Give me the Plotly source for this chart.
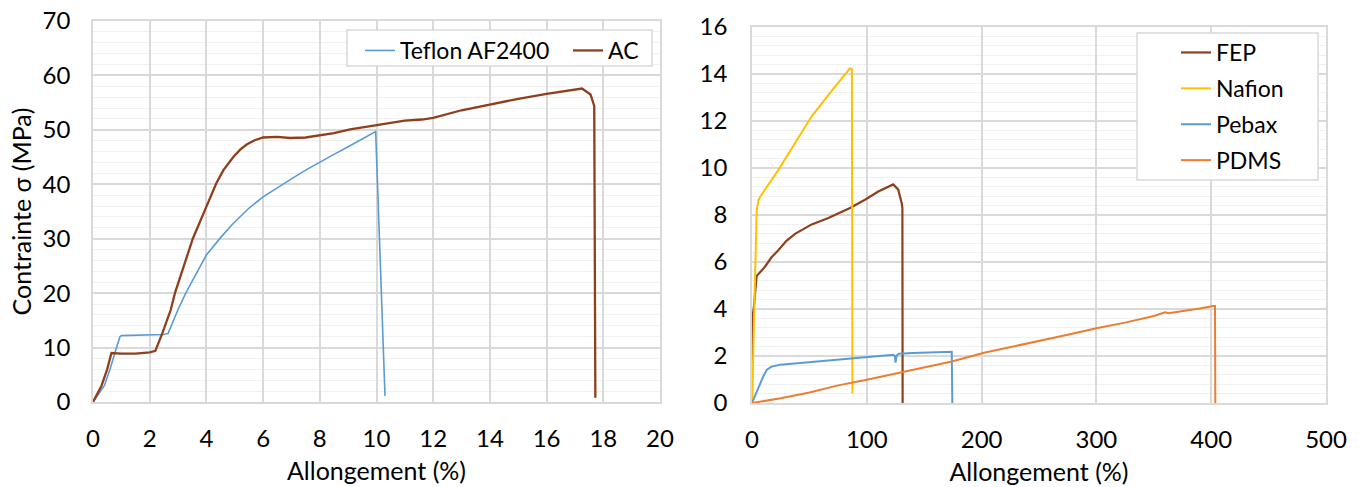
import plotly.graph_objects as go

# ---------------- Data (left chart) ----------------
teflon_x = [0, 0.2, 0.4, 0.5, 0.6, 0.8, 0.95, 1.0, 1.5, 2.0, 2.5, 2.65, 2.8, 3.0, 3.28, 3.5, 3.8, 4.0, 4.5,
            4.96, 5.5, 6.0, 6.5, 7.0, 7.5, 8.0, 8.5, 9.0, 9.5, 9.97, 10.3]
teflon_y = [0, 1.5, 3.0, 4.5, 6.0, 9.5, 12.0, 12.2, 12.3, 12.3, 12.4, 12.6, 14.5, 17.0, 20.1, 22.3, 25.1, 27.0, 30.2,
            32.9, 35.6, 37.7, 39.4, 41.0, 42.6, 44.1, 45.5, 46.9, 48.3, 49.7, 1.1]

ac_x = [0, 0.3, 0.5, 0.65, 1.0, 1.5, 2.0, 2.2, 2.45, 2.74, 2.89, 3.28, 3.52, 4.0, 4.35, 4.6, 4.95, 5.2, 5.42,
        5.7, 6.0, 6.5, 6.95, 7.5, 7.9, 8.5, 9.07, 10.0, 11.0, 11.6, 12.0, 13.0, 14.0, 15.0, 16.0, 16.9, 17.25,
        17.55, 17.68, 17.72]
ac_y = [0, 3.0, 6.0, 9.0, 8.9, 8.9, 9.1, 9.4, 12.7, 16.9, 20.0, 26.2, 30.0, 35.9, 40.2, 42.6, 45.0, 46.4, 47.3,
        48.1, 48.6, 48.7, 48.5, 48.6, 48.9, 49.4, 50.1, 50.9, 51.7, 51.9, 52.2, 53.6, 54.7, 55.7, 56.6, 57.4, 57.6,
        56.5, 54.4, 0.8]

# ---------------- Data (right chart) ----------------
fep_x = [0, 0.3, 1.5, 2.6, 4.0, 11.3, 17, 22.9, 30, 37.5, 52, 66.5, 85.4, 98.4, 110, 123, 127.4, 130.4, 131, 131.2]
fep_y = [0, 3.68, 4.0, 4.67, 5.4, 5.8, 6.2, 6.5, 6.9, 7.2, 7.6, 7.87, 8.3, 8.65, 9.0, 9.3, 9.08, 8.5, 8.3, 0]

nafion_x = [0, 1, 2, 3, 4.1, 5.5, 7, 23, 37, 52, 68, 85.4, 87, 87.5]
nafion_y = [0, 2.0, 4.5, 6.5, 8.2, 8.6, 8.77, 9.92, 11.0, 12.2, 13.2, 14.24, 14.2, 0.4]

pebax_x = [0, 5, 10, 13, 17, 24.6, 40, 60, 89, 110, 123, 124.5, 125, 126, 128, 140, 160, 174, 174.5]
pebax_y = [0, 0.6, 1.15, 1.42, 1.55, 1.63, 1.7, 1.78, 1.91, 1.99, 2.05, 2.0, 1.72, 2.02, 2.1, 2.13, 2.16, 2.18, 0]

pdms_x = [0, 25, 50, 75, 100, 125, 150, 174, 203, 225, 250, 275, 301, 325, 350, 360, 362.7, 375, 390, 401.8, 403.3, 403.6]
pdms_y = [0, 0.2, 0.45, 0.75, 0.99, 1.25, 1.5, 1.77, 2.15, 2.38, 2.62, 2.9, 3.19, 3.42, 3.7, 3.86, 3.82, 3.9, 4.02, 4.13, 4.13, 0]

left_xticks = list(range(0, 21, 2))
left_yticks = list(range(0, 71, 10))
right_xticks = list(range(0, 501, 100))
right_yticks = list(range(0, 17, 2))

FONT = "Lato"
GRID = "#D9D9D9"
MINOR = "#F0F0F0"
BLUE = "#5B9BD5"
BROWN = "#8E3F1C"
YELLOW = "#FFC000"
ORANGE = "#ED7D31"

W, H = 1359, 487

def px_x(p):
    return p / W

def px_y(p):
    return (H - p) / H

fig = go.Figure()

fig.add_trace(go.Scatter(x=teflon_x, y=teflon_y, mode="lines", name="Teflon AF2400",
                         line=dict(color=BLUE, width=1.6), xaxis="x", yaxis="y", legend="legend"))
fig.add_trace(go.Scatter(x=ac_x, y=ac_y, mode="lines", name="AC",
                         line=dict(color=BROWN, width=2.3), xaxis="x", yaxis="y", legend="legend"))

fig.add_trace(go.Scatter(x=fep_x, y=fep_y, mode="lines", name="FEP", legendgroup="a",
                         line=dict(color=BROWN, width=2.2), xaxis="x2", yaxis="y2", legend="legend2"))
fig.add_trace(go.Scatter(x=nafion_x, y=nafion_y, mode="lines", name="Nafion", legendgroup="b",
                         line=dict(color=YELLOW, width=2), xaxis="x2", yaxis="y2", legend="legend2"))
fig.add_trace(go.Scatter(x=pebax_x, y=pebax_y, mode="lines", name="Pebax", legendgroup="c",
                         line=dict(color=BLUE, width=2), xaxis="x2", yaxis="y2", legend="legend2"))
fig.add_trace(go.Scatter(x=pdms_x, y=pdms_y, mode="lines", name="PDMS", legendgroup="d",
                         line=dict(color=ORANGE, width=2), xaxis="x2", yaxis="y2", legend="legend2"))

TICKFONT = dict(family=FONT, size=24, color="#000")
TITLEFONT = dict(family=FONT, size=25, color="#000")

axis_common = dict(showgrid=True, gridcolor=GRID, gridwidth=1.5, zeroline=False,
                   showline=True, linecolor=GRID, linewidth=1.5, mirror=True,
                   ticks="", tickfont=TICKFONT, automargin=False)

# legend frames drawn as shapes (paper coordinates)
legend_boxes = [(347, 30, 652, 66), (1137, 33, 1318, 180)]
shapes = [dict(type="rect", xref="paper", yref="paper", layer="above",
               x0=px_x(a), x1=px_x(c), y0=px_y(d), y1=px_y(b),
               line=dict(color=GRID, width=1.5), fillcolor="white")
          for a, b, c, d in legend_boxes]

fig.update_layout(
    width=W, height=H,
    margin=dict(l=0, r=0, t=0, b=0, autoexpand=False),
    paper_bgcolor="white", plot_bgcolor="white",
    font=dict(family=FONT, size=20, color="#000"),
    xaxis=dict(domain=[px_x(93), px_x(660)], range=[0, 20], tickvals=left_xticks,
               ticklabelstandoff=14,
               title=dict(text="Allongement (%)", font=TITLEFONT, standoff=12),
               anchor="y", **axis_common),
    yaxis=dict(domain=[px_y(402), px_y(21)], range=[0, 70], tickvals=left_yticks,
               ticklabelstandoff=16,
               minor=dict(dtick=2, showgrid=True, gridcolor=MINOR, gridwidth=1),
               title=dict(text="Contrainte σ (MPa)", font=TITLEFONT, standoff=4),
               anchor="x", **axis_common),
    xaxis2=dict(domain=[px_x(752), px_x(1326)], range=[0, 500], tickvals=right_xticks,
                ticklabelstandoff=14,
                title=dict(text="Allongement (%)", font=TITLEFONT, standoff=12),
                anchor="y2", **axis_common),
    yaxis2=dict(domain=[px_y(403), px_y(27)], range=[0, 16], tickvals=right_yticks,
                ticklabelstandoff=18,
                minor=dict(dtick=0.4, showgrid=True, gridcolor=MINOR, gridwidth=1),
                anchor="x2", **axis_common),
    shapes=shapes,
    legend=dict(x=px_x(360), y=px_y(29), xanchor="left", yanchor="top", orientation="h",
                bgcolor="rgba(0,0,0,0)", borderwidth=0,
                font=dict(family=FONT, size=23), entrywidth=163),
    legend2=dict(x=px_x(1176), y=px_y(31), xanchor="left", yanchor="top", orientation="v",
                 bgcolor="rgba(0,0,0,0)", borderwidth=0, tracegroupgap=3,
                 font=dict(family=FONT, size=23)),
    showlegend=True,
)

fig.write_html("out.html", config={"displayModeBar": False},
               post_script="document.body.style.margin='0';")
